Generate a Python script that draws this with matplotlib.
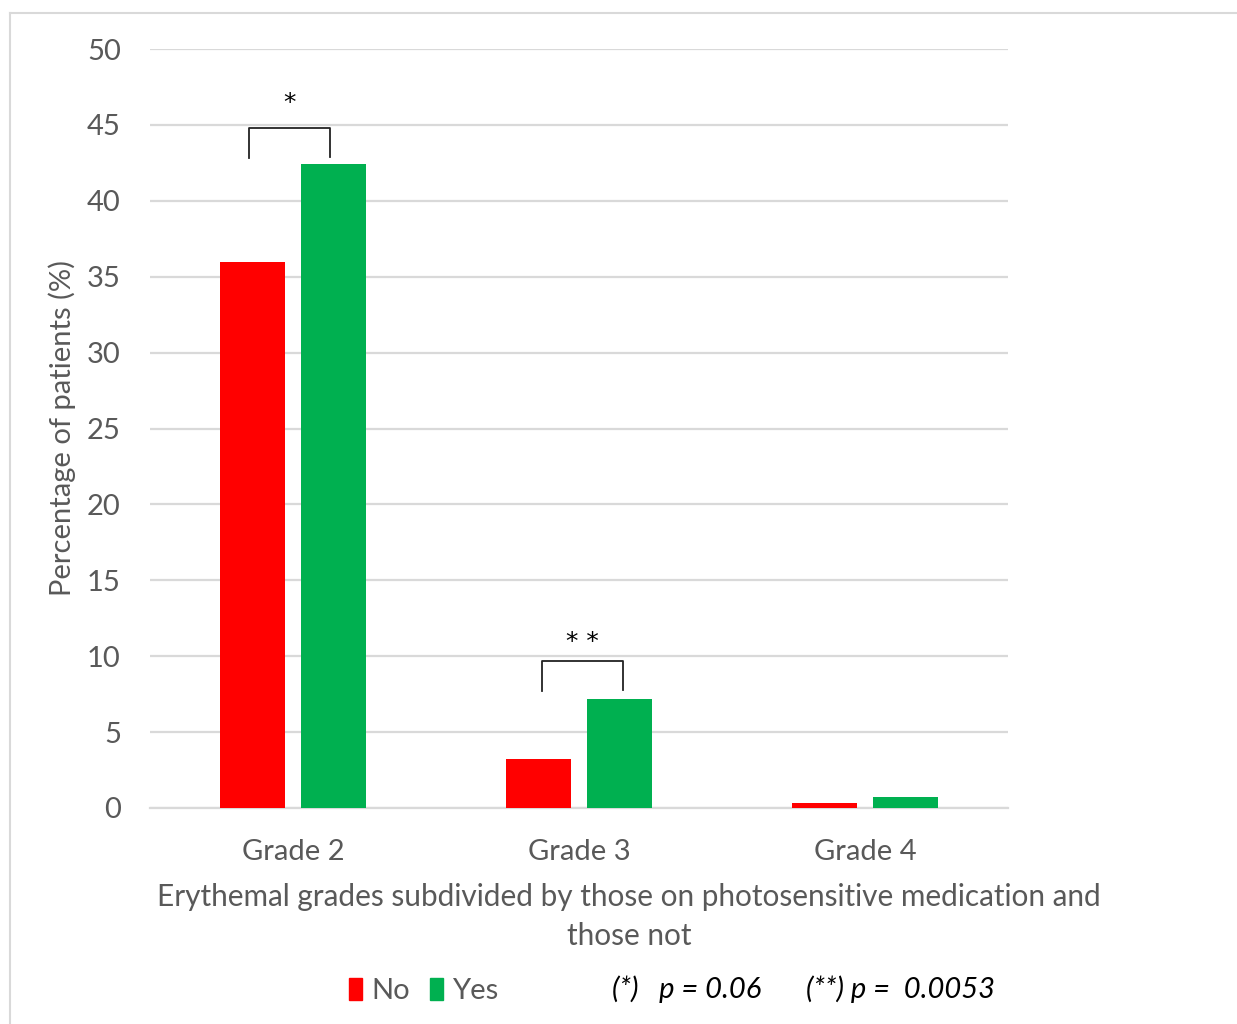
import matplotlib
matplotlib.use('Agg')
from matplotlib import pyplot as plt
from matplotlib.patches import Patch
from matplotlib.lines import Line2D
import numpy as np

# data
grades = ['Grade 2', 'Grade 3', 'Grade 4']
no_vals = [36.0, 3.2, 0.35]
yes_vals = [42.4, 7.2, 0.7]

# significance brackets: (category, left offset, right offset, left end, right end, top, label y, label)
brackets = [(0, -0.154, 0.129, 42.8, 42.9, 44.8, 46.45, '*'),
            (1, -0.129, 0.154, 7.7, 7.8, 9.7, 10.95, '* *')]

plt.rcParams['font.family'] = ['Lato', 'DejaVu Sans']
grey = '#595959'
red = '#ff0000'
green = '#00b050'

fig = plt.figure(figsize=(12.37, 10.24), dpi=100)
ax = fig.add_axes([150 / 1237, 1 - 808 / 1024, 858 / 1237, 759 / 1024])

x = np.arange(len(grades))
w = 0.227
off = 0.1425
ax.bar(x - off, no_vals, w, color=red, zorder=3)
ax.bar(x + off, yes_vals, w, color=green, zorder=3)

ax.set_xlim(-0.5, 2.5)
ax.set_ylim(0, 50)
ax.set_yticks(range(0, 51, 5))
ax.set_xticks(x)
ax.set_xticklabels(grades)
ax.yaxis.grid(True, color='#d9d9d9', linewidth=1.6, zorder=0)
ax.set_axisbelow(True)
for s in ['top', 'right', 'left']:
    ax.spines[s].set_visible(False)
ax.spines['bottom'].set_color('#d9d9d9')
ax.spines['bottom'].set_linewidth(1.6)
ax.tick_params(axis='both', length=0, labelsize=21, colors=grey)
ax.tick_params(axis='y', pad=21)
ax.tick_params(axis='x', pad=22)

ax.set_ylabel('Percentage of patients (%)', fontsize=21, color=grey, labelpad=8)

# x axis title, centred on the whole chart area
fig.text(629 / 1237, 1 - 897 / 1024, 'Erythemal grades subdivided by those on photosensitive medication and',
         fontsize=21.4, color=grey, ha='center', va='center')
fig.text(629 / 1237, 1 - 936 / 1024, 'those not',
         fontsize=21.4, color=grey, ha='center', va='center')

# significance brackets
for i, lo, ro, yl, yr, top, ly, lab in brackets:
    xl = i + lo
    xr = i + ro
    ax.plot([xl, xl, xr, xr], [yl, top, top, yr], color='#222222', lw=1.3, zorder=4, clip_on=False)
    ax.text((xl + xr) / 2, ly, lab, ha='center', va='center', fontsize=18,
            color='black', family='DejaVu Sans')

# legend
handles = [Patch(color=red, label='No'), Patch(color=green, label='Yes')]
fig.legend(handles=handles, loc='center left', bbox_to_anchor=(323 / 1237, 1 - 991 / 1024),
           ncol=2, frameon=False, fontsize=21, labelcolor=grey,
           handlelength=0.45, handleheight=0.8, handletextpad=0.3, columnspacing=0.7)

fig.text(612 / 1237, 1 - 989 / 1024, '(*)   p = 0.06', fontsize=21, style='italic',
         color='black', va='center', ha='left')
fig.text(806 / 1237, 1 - 989 / 1024, '(**) p =  0.0053', fontsize=21, style='italic',
         color='black', va='center', ha='left')

# outer frame of the chart area
fig.add_artist(Line2D([10 / 1237, 10 / 1237], [0, 1 - 13 / 1024], color='#d9d9d9', lw=1.5,
                      transform=fig.transFigure))
fig.add_artist(Line2D([10 / 1237, 1], [1 - 13 / 1024, 1 - 13 / 1024], color='#d9d9d9', lw=1.5,
                      transform=fig.transFigure))

fig.savefig('out.png', dpi=100)
